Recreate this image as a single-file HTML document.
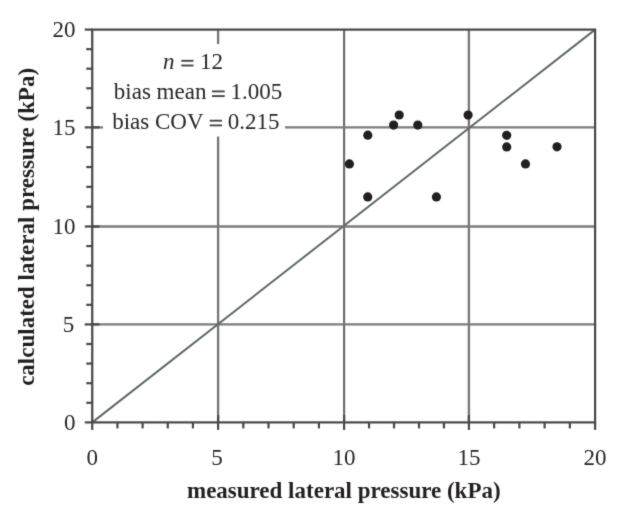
<!DOCTYPE html>
<html><head><meta charset="utf-8"><style>
html,body{margin:0;padding:0;background:#fff;}
body{width:621px;height:520px;overflow:hidden;}
svg{display:block;}
.tk{font-family:"Liberation Serif",serif;font-size:23px;fill:#2a2627;}
.an{font-family:"Liberation Serif",serif;font-size:23px;fill:#2a2627;}
.lb{font-family:"Liberation Serif",serif;font-weight:bold;font-size:23px;fill:#231f20;}
</style></head><body>
<svg width="621" height="520" viewBox="0 0 621 520">
<defs><filter id="sf" x="0" y="0" width="621" height="520" filterUnits="userSpaceOnUse" color-interpolation-filters="sRGB"><feConvolveMatrix order="3" kernelMatrix="0.02 0.08 0.02 0.08 0.6 0.08 0.02 0.08 0.02" divisor="1" edgeMode="duplicate" preserveAlpha="true"/></filter></defs>
<rect width="621" height="520" fill="#fff"/>
<g filter="url(#sf)">
<rect width="621" height="520" fill="#fff"/>
<line x1="218.1" y1="29.6" x2="218.1" y2="422.4" stroke="#777576" stroke-width="2.3"/>
<line x1="344.1" y1="29.6" x2="344.1" y2="422.4" stroke="#6a6869" stroke-width="2.1"/>
<line x1="468.9" y1="29.6" x2="468.9" y2="422.4" stroke="#7a7879" stroke-width="2.4"/>
<line x1="92.25" y1="127.4" x2="595.1" y2="127.4" stroke="#7d7b7c" stroke-width="2.4"/>
<line x1="92.25" y1="226.5" x2="595.1" y2="226.5" stroke="#7d7b7c" stroke-width="2.4"/>
<line x1="92.25" y1="324.4" x2="595.1" y2="324.4" stroke="#7d7b7c" stroke-width="2.4"/>
<line x1="92.25" y1="422.4" x2="595.1" y2="29.6" stroke="#5f696c" stroke-width="2.0"/>
<rect x="103" y="44" width="182" height="92.5" fill="#fff"/>
<rect x="92.25" y="29.6" width="502.85" height="392.80" fill="none" stroke="#4a4748" stroke-width="2.2"/>
<line x1="92.25" y1="422.40" x2="92.25" y2="429.90" stroke="#4a4748" stroke-width="2.2"/>
<line x1="84.75" y1="422.40" x2="92.25" y2="422.40" stroke="#4a4748" stroke-width="2.2"/>
<line x1="117.42" y1="422.40" x2="117.42" y2="428.40" stroke="#4a4748" stroke-width="2.2"/>
<line x1="86.25" y1="402.80" x2="92.25" y2="402.80" stroke="#4a4748" stroke-width="2.2"/>
<line x1="142.59" y1="422.40" x2="142.59" y2="428.40" stroke="#4a4748" stroke-width="2.2"/>
<line x1="86.25" y1="383.20" x2="92.25" y2="383.20" stroke="#4a4748" stroke-width="2.2"/>
<line x1="167.76" y1="422.40" x2="167.76" y2="428.40" stroke="#4a4748" stroke-width="2.2"/>
<line x1="86.25" y1="363.60" x2="92.25" y2="363.60" stroke="#4a4748" stroke-width="2.2"/>
<line x1="192.93" y1="422.40" x2="192.93" y2="428.40" stroke="#4a4748" stroke-width="2.2"/>
<line x1="86.25" y1="344.00" x2="92.25" y2="344.00" stroke="#4a4748" stroke-width="2.2"/>
<line x1="218.10" y1="415.10" x2="218.10" y2="429.90" stroke="#4a4748" stroke-width="2.2"/>
<line x1="84.75" y1="324.40" x2="99.55" y2="324.40" stroke="#4a4748" stroke-width="2.2"/>
<line x1="243.30" y1="422.40" x2="243.30" y2="428.40" stroke="#4a4748" stroke-width="2.2"/>
<line x1="86.25" y1="304.82" x2="92.25" y2="304.82" stroke="#4a4748" stroke-width="2.2"/>
<line x1="268.50" y1="422.40" x2="268.50" y2="428.40" stroke="#4a4748" stroke-width="2.2"/>
<line x1="86.25" y1="285.24" x2="92.25" y2="285.24" stroke="#4a4748" stroke-width="2.2"/>
<line x1="293.70" y1="422.40" x2="293.70" y2="428.40" stroke="#4a4748" stroke-width="2.2"/>
<line x1="86.25" y1="265.66" x2="92.25" y2="265.66" stroke="#4a4748" stroke-width="2.2"/>
<line x1="318.90" y1="422.40" x2="318.90" y2="428.40" stroke="#4a4748" stroke-width="2.2"/>
<line x1="86.25" y1="246.08" x2="92.25" y2="246.08" stroke="#4a4748" stroke-width="2.2"/>
<line x1="344.10" y1="415.10" x2="344.10" y2="429.90" stroke="#4a4748" stroke-width="2.2"/>
<line x1="84.75" y1="226.50" x2="99.55" y2="226.50" stroke="#4a4748" stroke-width="2.2"/>
<line x1="369.06" y1="422.40" x2="369.06" y2="428.40" stroke="#4a4748" stroke-width="2.2"/>
<line x1="86.25" y1="206.68" x2="92.25" y2="206.68" stroke="#4a4748" stroke-width="2.2"/>
<line x1="394.02" y1="422.40" x2="394.02" y2="428.40" stroke="#4a4748" stroke-width="2.2"/>
<line x1="86.25" y1="186.86" x2="92.25" y2="186.86" stroke="#4a4748" stroke-width="2.2"/>
<line x1="418.98" y1="422.40" x2="418.98" y2="428.40" stroke="#4a4748" stroke-width="2.2"/>
<line x1="86.25" y1="167.04" x2="92.25" y2="167.04" stroke="#4a4748" stroke-width="2.2"/>
<line x1="443.94" y1="422.40" x2="443.94" y2="428.40" stroke="#4a4748" stroke-width="2.2"/>
<line x1="86.25" y1="147.22" x2="92.25" y2="147.22" stroke="#4a4748" stroke-width="2.2"/>
<line x1="468.90" y1="415.10" x2="468.90" y2="429.90" stroke="#4a4748" stroke-width="2.2"/>
<line x1="84.75" y1="127.40" x2="99.55" y2="127.40" stroke="#4a4748" stroke-width="2.2"/>
<line x1="494.14" y1="422.40" x2="494.14" y2="428.40" stroke="#4a4748" stroke-width="2.2"/>
<line x1="86.25" y1="107.84" x2="92.25" y2="107.84" stroke="#4a4748" stroke-width="2.2"/>
<line x1="519.38" y1="422.40" x2="519.38" y2="428.40" stroke="#4a4748" stroke-width="2.2"/>
<line x1="86.25" y1="88.28" x2="92.25" y2="88.28" stroke="#4a4748" stroke-width="2.2"/>
<line x1="544.62" y1="422.40" x2="544.62" y2="428.40" stroke="#4a4748" stroke-width="2.2"/>
<line x1="86.25" y1="68.72" x2="92.25" y2="68.72" stroke="#4a4748" stroke-width="2.2"/>
<line x1="569.86" y1="422.40" x2="569.86" y2="428.40" stroke="#4a4748" stroke-width="2.2"/>
<line x1="86.25" y1="49.16" x2="92.25" y2="49.16" stroke="#4a4748" stroke-width="2.2"/>
<line x1="595.10" y1="422.40" x2="595.10" y2="429.90" stroke="#4a4748" stroke-width="2.2"/>
<line x1="84.75" y1="29.60" x2="92.25" y2="29.60" stroke="#4a4748" stroke-width="2.2"/>
<circle cx="349.4" cy="163.9" r="4.6" fill="#231f20"/>
<circle cx="367.8" cy="135.2" r="4.6" fill="#231f20"/>
<circle cx="367.75" cy="196.9" r="4.6" fill="#231f20"/>
<circle cx="393.6" cy="125.1" r="4.6" fill="#231f20"/>
<circle cx="399.2" cy="115.0" r="4.6" fill="#231f20"/>
<circle cx="417.8" cy="125.1" r="4.6" fill="#231f20"/>
<circle cx="436.4" cy="196.9" r="4.6" fill="#231f20"/>
<circle cx="468.1" cy="115.05" r="4.6" fill="#231f20"/>
<circle cx="506.7" cy="135.3" r="4.6" fill="#231f20"/>
<circle cx="506.7" cy="146.9" r="4.6" fill="#231f20"/>
<circle cx="525.5" cy="163.9" r="4.6" fill="#231f20"/>
<circle cx="557.0" cy="146.8" r="4.6" fill="#231f20"/>
<text x="92.25" y="465" text-anchor="middle" class="tk">0</text>
<text x="75.40" y="430.20" text-anchor="end" class="tk">0</text>
<text x="217.10" y="465" text-anchor="middle" class="tk">5</text>
<text x="74.20" y="332.20" text-anchor="end" class="tk">5</text>
<text x="344.10" y="465" text-anchor="middle" class="tk">10</text>
<text x="75.40" y="234.30" text-anchor="end" class="tk">10</text>
<text x="468.90" y="465" text-anchor="middle" class="tk">15</text>
<text x="75.40" y="135.20" text-anchor="end" class="tk">15</text>
<text x="595.10" y="465" text-anchor="middle" class="tk">20</text>
<text x="75.40" y="37.40" text-anchor="end" class="tk">20</text>
<text x="162.9" y="68.8" class="an" font-style="italic">n</text>
<rect x="181.3" y="59.85" width="12.20" height="1.9" fill="#4a4748"/>
<rect x="181.3" y="64.55" width="12.20" height="1.9" fill="#4a4748"/>
<text x="200" y="68.8" class="an">12</text>
<text x="113.8" y="99.4" class="an">bias mean</text>
<rect x="212.0" y="90.45" width="12.70" height="1.9" fill="#4a4748"/>
<rect x="212.0" y="95.15" width="12.70" height="1.9" fill="#4a4748"/>
<text x="230.6" y="99.4" class="an">1.005</text>
<text x="112.2" y="128.7" class="an">bias COV</text>
<rect x="209.7" y="119.75" width="12.30" height="1.9" fill="#4a4748"/>
<rect x="209.7" y="124.45" width="12.30" height="1.9" fill="#4a4748"/>
<text x="227.7" y="128.7" class="an">0.215</text>
<text x="343.8" y="498" text-anchor="middle" class="lb">measured lateral pressure (kPa)</text>
<text transform="translate(34.1,226.9) rotate(-90)" x="0" y="0" text-anchor="middle" class="lb">calculated lateral pressure (kPa)</text>
</g>
</svg>
</body></html>
